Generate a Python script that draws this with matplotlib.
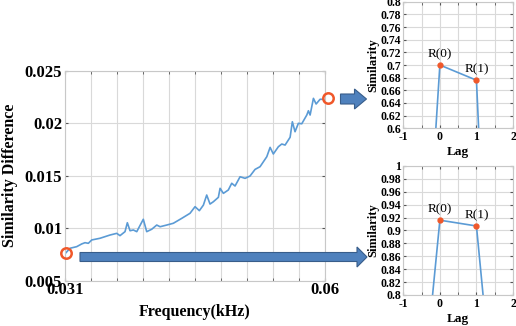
import matplotlib
matplotlib.use("Agg")
import matplotlib.pyplot as plt
from matplotlib.patches import FancyArrow
from matplotlib.ticker import FormatStrFormatter, MultipleLocator, FixedLocator

plt.rcParams['font.family'] = 'Liberation Serif'
plt.rcParams['axes.unicode_minus'] = False

# similarity difference vs frequency
freq = [0.03111, 0.03156, 0.0323, 0.03286, 0.03323, 0.0336, 0.03398, 0.0349,
        0.03602, 0.03677, 0.03713, 0.03769, 0.03795, 0.03825, 0.03862, 0.03900,
        0.03973, 0.04011, 0.04067, 0.04123, 0.0416, 0.04234, 0.04308, 0.04402,
        0.04494, 0.0455, 0.04598, 0.04643, 0.0468, 0.04717, 0.04754, 0.0481,
        0.04829, 0.04866, 0.04921, 0.04959, 0.04996, 0.05052, 0.05108, 0.05163,
        0.05219, 0.05275, 0.0535, 0.05387, 0.05423, 0.05479, 0.05517, 0.05554,
        0.0561, 0.05635, 0.05665, 0.05702, 0.0574, 0.05796, 0.05814, 0.05833,
        0.0587, 0.059, 0.05944, 0.05981]
sim_diff = [0.00767, 0.00809, 0.00824, 0.0085, 0.00862, 0.00856, 0.00888, 0.00904,
            0.00935, 0.00951, 0.00929, 0.00967, 0.01052, 0.00976, 0.00983, 0.00967,
            0.01085, 0.00967, 0.0099, 0.0103, 0.01014, 0.0103, 0.01047, 0.01094,
            0.01142, 0.01205, 0.01167, 0.0122, 0.01316, 0.0123, 0.01252, 0.01294,
            0.0138, 0.01332, 0.01364, 0.01428, 0.01402, 0.0149, 0.01475, 0.01497,
            0.0156, 0.01586, 0.01681, 0.0177, 0.01707, 0.01776, 0.01802, 0.01792,
            0.01866, 0.02014, 0.01919, 0.01999, 0.01995, 0.02078, 0.02119, 0.02078,
            0.02237, 0.02183, 0.02228, 0.02228]

# highlighted points (low / high frequency)
mark_freq = [0.03111, 0.06037]
mark_diff = [0.00767, 0.02237]

# autocorrelation at the two highlighted frequencies
lags = [-1, 0, 1, 2]
sim_high = [-0.21, 0.700, 0.676, -0.59]
sim_low = [0.336, 0.916, 0.907, 0.317]
r_labels = ['R(0)', 'R(1)']

BLUE = '#5b9bd5'
RED = '#f0582a'
GRID = '#d9d9d9'

fig = plt.figure(figsize=(5.16, 3.26), dpi=100)


def style(ax, fs):
    ax.grid(True, which='both', color=GRID, linewidth=0.8)
    ax.set_axisbelow(True)
    for s in ax.spines.values():
        s.set_color('#c8c8c8')
        s.set_linewidth(0.8)
    ax.tick_params(which='both', direction='in', top=True, right=True,
                   length=2, color='#555555', labelsize=fs, pad=2)
    for t in ax.get_xticklabels() + ax.get_yticklabels():
        t.set_fontweight('bold')


# main plot
ax = fig.add_axes([0.126, 0.139, 0.504, 0.644])
ax.plot(freq, sim_diff, color=BLUE, linewidth=1.2)
ax.plot(mark_freq, mark_diff, 'o', mfc='none', mec=RED, ms=7.5, mew=1.8,
        clip_on=False, zorder=5)
ax.set_xlim(0.031, 0.06)
ax.set_ylim(0.005, 0.025)
ax.set_xticks([0.031, 0.06])
ax.xaxis.set_minor_locator(FixedLocator([0.031 + 0.0029 * i for i in range(1, 10)]))
ax.set_yticks([0.005, 0.01, 0.015, 0.02, 0.025])
ax.xaxis.set_major_formatter(FormatStrFormatter('%g'))
ax.yaxis.set_major_formatter(FormatStrFormatter('%g'))
style(ax, 12)
ax.tick_params(axis='x', pad=1)
ax.set_xlabel('Frequency(kHz)', fontsize=11.5, fontweight='bold', labelpad=4)
ax.set_ylabel('Similarity Difference', fontsize=11.5, fontweight='bold', labelpad=5)


def inset(rect, vals, ylo, yhi):
    a = fig.add_axes(rect)
    a.plot(lags, vals, color=BLUE, linewidth=1.2)
    a.plot(lags[1:3], vals[1:3], 'o', color=RED, ms=3.5, zorder=5)
    for lag, v, lab in zip(lags[1:3], vals[1:3], r_labels):
        a.text(lag, v + 0.007, lab, ha='center', va='bottom', fontsize=9.5)
    a.set_xlim(-1, 2)
    a.set_ylim(ylo, yhi)
    a.set_xticks(lags)
    a.xaxis.set_minor_locator(MultipleLocator(0.5))
    a.yaxis.set_major_locator(MultipleLocator(0.02))
    a.yaxis.set_major_formatter(FormatStrFormatter('%g'))
    style(a, 8.5)
    a.tick_params(axis='y', pad=1.5)
    a.set_xlabel('Lag', fontsize=9.5, fontweight='bold', labelpad=2)
    a.set_ylabel('Similarity', fontsize=9, fontweight='bold', labelpad=1)
    return a


inset([0.7816, 0.6064, 0.2126, 0.3883], sim_high, 0.6, 0.8)
inset([0.7816, 0.0951, 0.2126, 0.3957], sim_low, 0.8, 1.0)

# arrows linking highlighted points to their autocorrelation
ov = fig.add_axes([0, 0, 1, 1], facecolor='none')
ov.set_xlim(0, 516)
ov.set_ylim(326, 0)
ov.axis('off')
ov.add_patch(FancyArrow(340.5, 99, 26, 0, width=10, head_width=20, head_length=12,
                        length_includes_head=True, fc='#4f81bd', ec='#385d8a', lw=0.8))
ov.add_patch(FancyArrow(80, 257, 287, 0, width=9, head_width=20, head_length=10,
                        length_includes_head=True, fc='#4f81bd', ec='#385d8a', lw=0.8))

fig.savefig('out.png', dpi=100)
